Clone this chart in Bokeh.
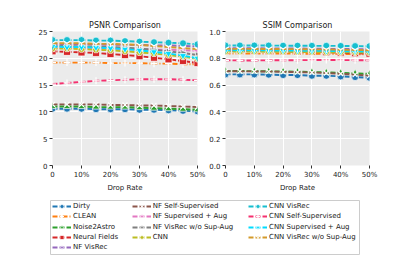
import math
from bokeh.plotting import figure
from bokeh.layouts import column, row
from bokeh.models import Range1d, FixedTicker, Legend, LegendItem
from bokeh.embed import file_html
from bokeh.resources import INLINE

drop_rate = [0, 5, 10, 15, 20, 25, 30, 35, 40, 45, 50]
x_ticks = [0, 10, 20, 30, 40, 50]
x_tick_labels = ["0", "10%", "20%", "30%", "40%", "50%"]
psnr_ticks = [0, 5, 10, 15, 20, 25]
ssim_ticks = [0.0, 0.2, 0.4, 0.6, 0.8, 1.0]

methods = ["Dirty", "CLEAN", "Noise2Astro", "Neural Fields", "NF VisRec",
           "NF Self-Supervised", "NF Supervised + Aug", "NF VisRec w/o Sup-Aug",
           "CNN", "CNN VisRec", "CNN Self-Supervised", "CNN Supervised + Aug",
           "CNN VisRec w/o Sup-Aug"]

psnr_dirty = [10.6, 10.6, 10.6, 10.5, 10.5, 10.5, 10.4, 10.4, 10.3, 10.2, 10.1]
psnr_clean = [19.2, 19.2, 19.2, 19.2, 19.1, 19.1, 19.1, 19.0, 19.0, 18.9, 18.9]
psnr_n2a = [11.0, 11.0, 11.0, 10.9, 10.9, 10.9, 10.8, 10.7, 10.6, 10.5, 10.4]
psnr_nf = [21.3, 21.2, 21.1, 21.0, 20.8, 20.6, 20.4, 20.1, 19.8, 19.5, 19.1]
psnr_nf_visrec = [22.6, 22.6, 22.6, 22.6, 22.5, 22.5, 22.5, 22.4, 22.4, 22.3, 22.2]
psnr_nf_self = [11.4, 11.4, 11.4, 11.4, 11.3, 11.3, 11.2, 11.2, 11.1, 11.0, 10.9]
psnr_nf_sup = [21.9, 21.9, 21.9, 21.8, 21.8, 21.7, 21.7, 21.6, 21.6, 21.5, 21.4]
psnr_nf_wo = [22.3, 22.3, 22.2, 22.2, 22.1, 22.0, 21.8, 21.6, 21.3, 21.0, 20.6]
psnr_cnn = [21.8, 21.8, 21.7, 21.6, 21.5, 21.3, 21.1, 20.9, 20.6, 20.3, 19.9]
psnr_cnn_visrec = [23.4, 23.4, 23.4, 23.3, 23.3, 23.2, 23.1, 23.0, 22.9, 22.8, 22.6]
psnr_cnn_self = [15.2, 15.4, 15.6, 15.8, 15.9, 16.0, 16.1, 16.1, 16.1, 16.0, 15.9]
psnr_cnn_sup = [22.2, 22.1, 22.1, 22.0, 21.9, 21.7, 21.5, 21.2, 20.9, 20.5, 20.0]
psnr_cnn_wo = [22.8, 22.8, 22.8, 22.7, 22.7, 22.6, 22.5, 22.3, 22.1, 21.9, 21.7]

ssim_dirty = [0.680, 0.680, 0.680, 0.678, 0.675, 0.675, 0.670, 0.670, 0.665, 0.660, 0.655]
ssim_clean = [0.835, 0.835, 0.835, 0.835, 0.835, 0.835, 0.834, 0.833, 0.832, 0.831, 0.830]
ssim_n2a = [0.705, 0.705, 0.704, 0.703, 0.702, 0.700, 0.698, 0.695, 0.692, 0.688, 0.683]
ssim_nf = [0.855, 0.855, 0.854, 0.853, 0.852, 0.850, 0.848, 0.845, 0.842, 0.838, 0.834]
ssim_nf_visrec = [0.875, 0.875, 0.875, 0.874, 0.874, 0.873, 0.872, 0.871, 0.870, 0.869, 0.868]
ssim_nf_self = [0.703, 0.703, 0.702, 0.701, 0.699, 0.697, 0.694, 0.690, 0.685, 0.678, 0.670]
ssim_nf_sup = [0.865, 0.865, 0.864, 0.864, 0.863, 0.862, 0.861, 0.860, 0.859, 0.858, 0.857]
ssim_nf_wo = [0.868, 0.868, 0.867, 0.867, 0.866, 0.865, 0.863, 0.861, 0.859, 0.857, 0.855]
ssim_cnn = [0.850, 0.850, 0.850, 0.849, 0.849, 0.848, 0.847, 0.846, 0.845, 0.844, 0.842]
ssim_cnn_visrec = [0.895, 0.895, 0.895, 0.895, 0.894, 0.894, 0.893, 0.893, 0.892, 0.891, 0.890]
ssim_cnn_self = [0.785, 0.784, 0.784, 0.785, 0.786, 0.786, 0.787, 0.787, 0.787, 0.786, 0.786]
ssim_cnn_sup = [0.860, 0.860, 0.859, 0.859, 0.858, 0.857, 0.856, 0.855, 0.853, 0.852, 0.850]
ssim_cnn_wo = [0.870, 0.870, 0.870, 0.869, 0.869, 0.868, 0.867, 0.866, 0.864, 0.862, 0.860]

psnr_series = [psnr_dirty, psnr_clean, psnr_n2a, psnr_nf, psnr_nf_visrec, psnr_nf_self,
               psnr_nf_sup, psnr_nf_wo, psnr_cnn, psnr_cnn_visrec, psnr_cnn_self,
               psnr_cnn_sup, psnr_cnn_wo]
ssim_series = [ssim_dirty, ssim_clean, ssim_n2a, ssim_nf, ssim_nf_visrec, ssim_nf_self,
               ssim_nf_sup, ssim_nf_wo, ssim_cnn, ssim_cnn_visrec, ssim_cnn_self,
               ssim_cnn_sup, ssim_cnn_wo]

colors = ["#1f77b4", "#ff7f0e", "#2ca02c", "#d62728", "#9467bd", "#8c564b",
          "#e377c2", "#7f7f7f", "#bcbd22", "#17becf", "#f5306f", "#00dcff", "#d49a2a"]
# (marker, angle, filled)
markers = [("circle", 0, True), ("cross", 0, False), ("triangle", 0, True),
           ("square", 0, True), ("diamond", 0, True), ("x", 0, False),
           ("triangle", math.pi / 2, True), ("triangle", -math.pi / 2, True),
           ("hex", 0, True), ("circle", 0, True), ("cross", 0, False),
           ("inverted_triangle", 0, True), ("y", 0, False)]
dashes = ["5 2", "5 2 1 2", "5 2", "5 2", "5 2", "5 2", "5 2", "5 2", "5 2",
          "5 2", "5 2", "5 2", "5 2"]

FONT = "DejaVu Sans"
BG = "#ebebeb"


def draw(p, xs, ys, i):
    c = colors[i]
    m, ang, filled = markers[i]
    lr = p.line(xs, ys, line_color=c, line_width=1.9, line_dash=dashes[i])
    if filled:
        sr = p.scatter(xs, ys, marker=m, angle=ang, size=7, fill_color=c,
                       line_color="white", line_width=0.7)
    else:
        sr = p.scatter(xs, ys, marker=m, angle=ang, size=7,
                       line_color="white", line_width=1.2)
    return lr, sr


def make_panel(title, series, yticks, yrange, labels, width, mbl, mbr):
    p = figure(width=width, height=197, output_backend="svg", toolbar_location=None,
               x_range=Range1d(0, 50), y_range=Range1d(*yrange),
               min_border_left=mbl, min_border_right=mbr, min_border_top=31,
               min_border_bottom=32, background_fill_color=BG,
               border_fill_color="white", outline_line_color=None)
    p.title.text = title
    p.title.text_font = FONT
    p.title.text_font_size = "8px"
    p.title.text_font_style = "normal"
    p.title.text_color = "#222222"
    p.title.align = "center"
    p.title.standoff = 4
    for ys_i, ys in enumerate(series):
        draw(p, drop_rate, ys, ys_i)
    p.xaxis.ticker = FixedTicker(ticks=x_ticks)
    p.xaxis.major_label_overrides = {t: l for t, l in zip(x_ticks, x_tick_labels)}
    p.yaxis.ticker = FixedTicker(ticks=yticks)
    p.yaxis.major_label_overrides = {t: l for t, l in zip(yticks, labels)}
    p.xaxis.axis_label = "Drop Rate"
    for ax in (p.xaxis, p.yaxis):
        ax.axis_line_color = None
        ax.major_tick_line_color = "#333333"
        ax.major_tick_out = 3
        ax.major_tick_in = 0
        ax.minor_tick_line_color = None
        ax.major_label_text_font = FONT
        ax.major_label_text_font_size = "7px"
        ax.major_label_text_color = "#222222"
        ax.major_label_standoff = 2
        ax.axis_label_text_font = FONT
        ax.axis_label_text_font_size = "7px"
        ax.axis_label_text_font_style = "normal"
        ax.axis_label_text_color = "#222222"
        ax.axis_label_standoff = 2
    p.xgrid.ticker = FixedTicker(ticks=x_ticks)
    p.ygrid.ticker = FixedTicker(ticks=yticks)
    p.grid.grid_line_color = "white"
    p.grid.grid_line_width = 1
    return p


p1 = make_panel("PSNR Comparison", psnr_series, psnr_ticks, (0, 25),
                [str(t) for t in psnr_ticks], 206, 52, 9)
p2 = make_panel("SSIM Comparison", ssim_series, ssim_ticks, (0, 1),
                ["%.1f" % t for t in ssim_ticks], 204, 18, 41)

# legend panel (frame = legend box)
pl = figure(width=410, height=59, output_backend="svg", toolbar_location=None,
            x_range=Range1d(0, 1), y_range=Range1d(0, 1),
            x_axis_location=None, y_axis_location=None,
            min_border_left=50, min_border_right=51, min_border_top=3,
            min_border_bottom=2, outline_line_color="#cccccc",
            outline_line_width=1, background_fill_color="white")
pl.grid.visible = False

nan = float("nan")
col_x = [2, 81.7, 198]
col_of = [0, 0, 0, 0, 0, 1, 1, 1, 1, 2, 2, 2, 2]
row_of = [0, 1, 2, 3, 4, 0, 1, 2, 3, 0, 1, 2, 3]
frame_h = 54
item_h = 10
for i, name in enumerate(methods):
    lr, sr = draw(pl, [nan], [nan], i)
    center_from_top = 5.7 + 10.4 * row_of[i]
    y_bottom = frame_h - (center_from_top + item_h / 2)
    leg = Legend(items=[LegendItem(label=name, renderers=[lr, sr])],
                 location=(col_x[col_of[i]], y_bottom), orientation="vertical",
                 padding=0, margin=0, spacing=0, label_height=item_h,
                 glyph_height=item_h, glyph_width=19, label_standoff=2,
                 border_line_color=None, background_fill_alpha=0,
                 label_text_font=FONT, label_text_font_size="7px",
                 label_text_color="#222222")
    pl.add_layout(leg, "center")

layout = column(row(p1, p2), pl)
open("out.html", "w").write(file_html(layout, INLINE))
